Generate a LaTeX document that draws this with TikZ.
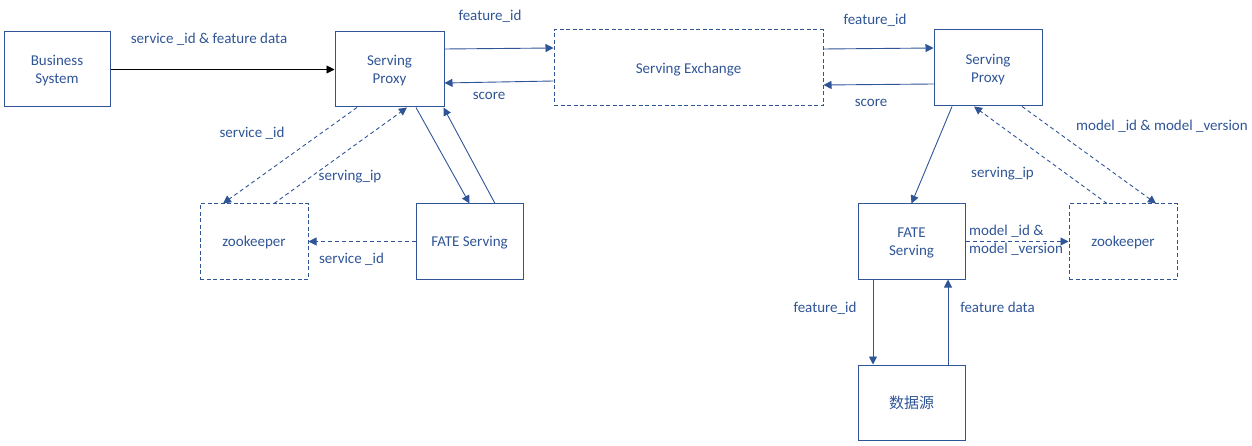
\documentclass[tikz,border=0pt]{standalone}
\usepackage{fontspec}
\setmainfont{Carlito}
\newfontfamily\cjk{Noto Sans CJK SC}
\usetikzlibrary{arrows.meta}
\definecolor{bl}{RGB}{47,85,151}
\begin{document}
\begin{tikzpicture}[x=1pt,y=-1pt,
  every node/.style={font=\fontsize{15pt}{18pt}\selectfont, text=bl},
  box/.style={draw=bl, line width=1pt, inner sep=0pt, align=center, text depth=0pt, minimum width=107pt, minimum height=75pt},
  dbox/.style={box, dash pattern=on 4pt off 2.5pt},
  conn/.style={draw=bl, line width=0.9pt, -{Triangle[length=8pt,width=8pt]}},
  dconn/.style={conn, dash pattern=on 4pt off 3pt},
  lbl/.style={inner sep=0pt, anchor=center, text depth=0pt}]
\useasboundingbox (0,0) rectangle (1252,446);
% boxes
\node[box, minimum width=106pt] (bs) at (57,69.5) {Business\\System};
\node[box, minimum width=109pt] (pxL) at (389.5,69.5) {Serving\\Proxy};
\node[dbox, minimum width=269pt, minimum height=76pt] (ex) at (688.5,68) {Serving Exchange};
\node[box, minimum width=108pt, minimum height=76pt] (pxR) at (988,68) {Serving\\Proxy};
\node[dbox, minimum width=108pt] (zkL) at (254,241.5) {zookeeper};
\node[box] (fateL) at (469.5,241.5) {FATE Serving};
\node[box] (fateR) at (911.5,241.5) {FATE\\Serving};
\node[dbox, minimum width=108pt] (zkR) at (1123,241.5) {zookeeper};
\node[box] (ds) at (911.5,402.5) {\cjk 数据源};
% connectors
\draw[conn, draw=black] (bs.east) -- (pxL.west);
\draw[conn] ([yshift=20.5pt]pxL.east) -- ([yshift=20pt]ex.west);
\draw[conn] ([yshift=-13pt]ex.west) -- ([yshift=-13.5pt]pxL.east);
\draw[conn] ([yshift=19pt]ex.east) -- ([yshift=20pt]pxR.west);
\draw[conn] ([yshift=-16pt]pxR.west) -- ([yshift=-17pt]ex.east);
\draw[dconn] ([xshift=-32.5pt]pxL.south) -- ([xshift=-31pt]zkL.north);
\draw[dconn] ([xshift=20pt]zkL.north) -- ([xshift=17.5pt]pxL.south);
\draw[conn] ([xshift=26.5pt]pxL.south) -- (fateL.north);
\draw[conn] ([xshift=25.5pt]fateL.north) -- ([xshift=-1pt]pxL.south east);
\draw[dconn] (fateL.west) -- (zkL.east);
\draw[conn] ([xshift=-36pt]pxR.south) -- (fateR.north);
\draw[dconn] ([xshift=-16pt]zkR.north) -- ([xshift=-14pt]pxR.south);
\draw[dconn] ([xshift=34pt]pxR.south) -- ([xshift=33pt]zkR.north);
\draw[dconn] (fateR.east) -- (zkR.west);
\draw[conn] ([xshift=-38.5pt]fateR.south) -- ([xshift=-38.5pt]ds.north);
\draw[conn] ([xshift=36.5pt]ds.north) -- ([xshift=36.5pt]fateR.south);
% labels
\node[lbl] (l1) at (209,38) {service \_id \& feature data};
\node[lbl] (l2) at (490,15) {feature\_id};
\node[lbl] (l3) at (489,96) {score};
\node[lbl] (l4) at (875,19) {feature\_id};
\node[lbl] (l5) at (871,103) {score};
\node[lbl] (l6) at (252,132) {service \_id};
\node[lbl] (l7) at (350,175) {serving\_ip};
\node[lbl] (l8) at (351.5,258) {service \_id};
\node[lbl] (l9) at (1162,125) {model \_id \& model \_version};
\node[lbl] (l10) at (1002.5,172.5) {serving\_ip};
\node[lbl, anchor=west, align=left] (l11) at (969,239.5) {model \_id \&\\model \_version};
\node[lbl] (l12) at (825,307) {feature\_id};
\node[lbl] (l13) at (997.5,307) {feature data};
\end{tikzpicture}
\end{document}
